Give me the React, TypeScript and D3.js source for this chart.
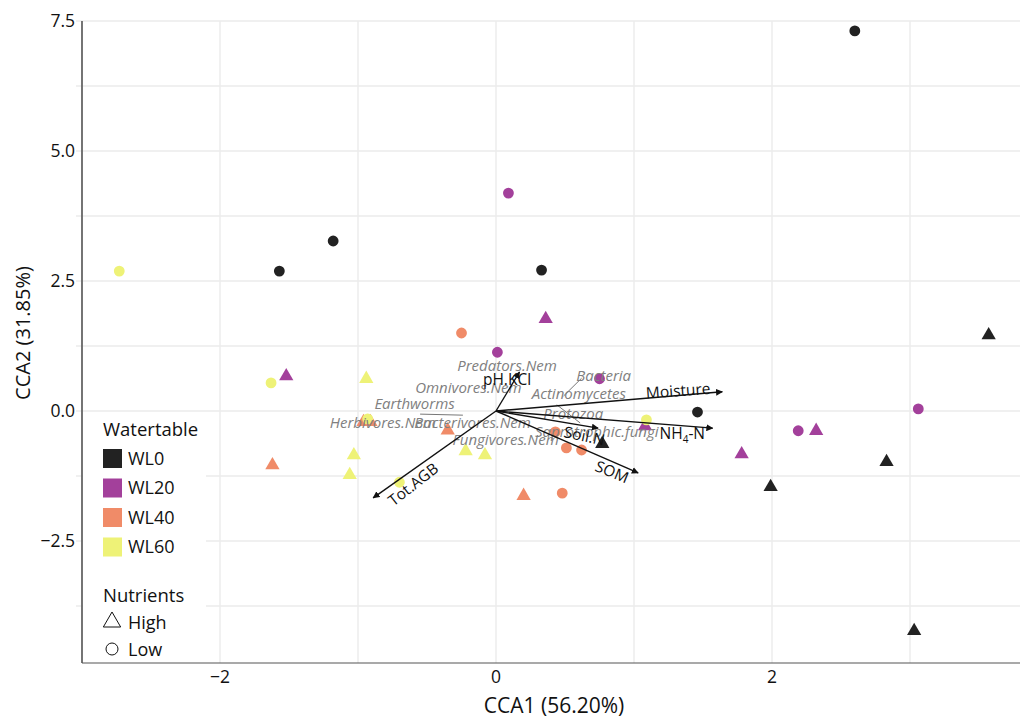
import React from "react"
import * as d3 from "d3"

// sample scores (CCA1, CCA2)
const wl0Low = [[2.60, 7.31], [-1.18, 3.27], [-1.57, 2.69], [0.33, 2.71], [1.46, -0.02]]
const wl0High = [[3.57, 1.44], [2.83, -1.0], [1.99, -1.48], [3.03, -4.25], [0.77, -0.65]]
const wl20Low = [[0.09, 4.19], [0.01, 1.13], [0.75, 0.62], [2.19, -0.38], [3.06, 0.04]]
const wl20High = [[0.36, 1.75], [-1.52, 0.65], [1.08, -0.31], [1.78, -0.85], [2.32, -0.40]]
const wl40Low = [[-0.25, 1.5], [0.43, -0.40], [0.51, -0.71], [0.62, -0.75], [0.48, -1.58]]
const wl40High = [[-1.62, -1.06], [-0.96, -0.23], [-0.91, -0.23], [-0.35, -0.39], [0.20, -1.65]]
const wl60Low = [[-2.73, 2.69], [-1.63, 0.54], [-0.70, -1.37], [1.09, -0.17], [-0.93, -0.15]]
const wl60High = [[-0.94, 0.6], [-1.03, -0.87], [-1.06, -1.25], [-0.22, -0.79], [-0.08, -0.87]]

const groups = ["WL0", "WL20", "WL40", "WL60"]
const groupColors = ["#222222", "#a3409b", "#f08b68", "#eef277"]

// environmental vectors: name, x, y
const envNames = ["pH.KCl", "Moisture", "NH4-N", "Soil.N", "SOM", "Tot.AGB"]
const envX = [0.17, 1.64, 1.57, 0.74, 1.03, -0.89]
const envY = [0.75, 0.37, -0.33, -0.33, -1.19, -1.67]

// species labels
const spNames = ["Predators.Nem", "Omnivores.Nem", "Earthworms", "Herbivores.Nem", "Bacterivores.Nem", "Fungivores.Nem", "Bacteria", "Actinomycetes", "Protozoa", "Saprotrophic.fungi"]
const spX = [0.08, -0.2, -0.59, -0.82, -0.17, 0.07, 0.78, 0.6, 0.56, 0.73]
const spY = [0.87, 0.44, 0.13, -0.22, -0.22, -0.56, 0.67, 0.34, -0.05, -0.4]
const spLines = [[0.62, 0.63, 0.49, 0.29], [0.44, 0.12, 0.61, -0.23], [-0.55, -0.06, -0.24, -0.08]]

const xTicks = [-2, 0, 2]
const yTicks = [-2.5, 0, 2.5, 5, 7.5]

const W = 1021
const H = 720
const m = { left: 82, right: 1020, top: 21, bottom: 663 }
const x = d3.scaleLinear().domain([-3, 3.797]).range([m.left, m.right])
const y = d3.scaleLinear().domain([-4.846, 7.5]).range([m.bottom, m.top])
const font = "'Open Sans', 'Noto Sans', sans-serif"

const tri = d3.symbol().type(d3.symbolTriangle).size(88)
const circ = d3.symbol().type(d3.symbolCircle).size(92)

export default function App() {
  const series = [
    [wl0Low, wl0High], [wl20Low, wl20High], [wl40Low, wl40High], [wl60Low, wl60High],
  ]
  const xGrid = d3.range(-3, 4, 1)
  const yGrid = d3.range(-3.75, 7.6, 1.25)
  const ox = x(0)
  const oy = y(0)
  return (
    <svg width={W} height={H} style={{ position: "absolute", left: 0, top: 0, fontFamily: font }}>
      <defs>
        <marker id="ah" viewBox="0 0 10 10" refX="9" refY="5" markerWidth="5" markerHeight="5" orient="auto">
          <path d="M0,0 L10,5 L0,10 z" fill="#111" />
        </marker>
      </defs>
      <rect width={W} height={H} fill="white" />
      {xGrid.map((v) => (
        <line key={"gx" + v} x1={x(v)} x2={x(v)} y1={m.top} y2={m.bottom} stroke="#ebebeb" strokeWidth={1.4} />
      ))}
      {yGrid.map((v) => (
        <line key={"gy" + v} x1={m.left - 6} x2={m.right} y1={y(v)} y2={y(v)} stroke="#ebebeb" strokeWidth={1.4} />
      ))}
      {/* legend box */}
      <rect x={m.left + 1} y={414} width={123} height={248} fill="white" />
      <line x1={m.left} x2={m.left} y1={m.top} y2={m.bottom} stroke="#222" strokeWidth={1.2} />
      <line x1={m.left} x2={m.right} y1={m.bottom} y2={m.bottom} stroke="#555" strokeWidth={1.2} />
      {yTicks.map((v) => (
        <text key={"yt" + v} x={m.left - 7} y={y(v)} dy="0.35em" textAnchor="end" fontSize={17.5} fill="#111">
          {d3.format(".1f")(v).replace("-", "\u2212")}
        </text>
      ))}
      {xTicks.map((v) => (
        <text key={"xt" + v} x={x(v)} y={m.bottom + 20} textAnchor="middle" fontSize={17.5} fill="#111">
          {String(v).replace("-", "\u2212")}
        </text>
      ))}
      <text x={554} y={713} textAnchor="middle" fontSize={21} fill="#111">CCA1 (56.20%)</text>
      <text transform={`translate(30,333) rotate(-90)`} textAnchor="middle" fontSize={20} fill="#111">CCA2 (31.85%)</text>

      {/* points */}
      {series.map((s, gi) => (
        <g key={"s" + gi} fill={groupColors[gi]}>
          {s[0].map((p, i) => (
            <path key={"c" + i} d={circ() as string} transform={`translate(${x(p[0])},${y(p[1])})`} />
          ))}
          {s[1].map((p, i) => (
            <path key={"t" + i} d={tri() as string} transform={`translate(${x(p[0])},${y(p[1]) - 1})`} />
          ))}
        </g>
      ))}

      {/* species labels */}
      {spLines.map((l, i) => (
        <line key={"sl" + i} x1={x(l[0])} y1={y(l[1])} x2={x(l[2])} y2={y(l[3])} stroke="#777" strokeWidth={1} />
      ))}
      {spNames.map((n, i) => (
        <text key={n} x={x(spX[i])} y={y(spY[i])} dy="0.35em" textAnchor="middle" fontSize={15} fontStyle="italic" fill="#808080">
          {n}
        </text>
      ))}

      {/* env arrows */}
      {envNames.map((n, i) => (
        <line key={"a" + n} x1={ox} y1={oy} x2={x(envX[i])} y2={y(envY[i])} stroke="#111" strokeWidth={1.4} markerEnd="url(#ah)" />
      ))}
      <text x={x(0.08)} y={y(0.6)} dy="0.35em" textAnchor="middle" fontSize={15.5} fill="#111">pH.KCl</text>
      <text transform={`translate(${x(1.32)},${y(0.39)}) rotate(-4)`} dy="0.35em" textAnchor="middle" fontSize={15.5} fill="#111">Moisture</text>
      <text x={x(1.35)} y={y(-0.43)} dy="0.35em" textAnchor="middle" fontSize={15.5} fill="#111">
        NH<tspan fontSize={10} dy="4">4</tspan><tspan dy="-4">-N</tspan>
      </text>
      <text transform={`translate(${x(0.64)},${y(-0.48)}) rotate(12)`} dy="0.35em" textAnchor="middle" fontSize={15.5} fill="#111">Soil.N</text>
      <text transform={`translate(${x(0.84)},${y(-1.17)}) rotate(22)`} dy="0.35em" textAnchor="middle" fontSize={15.5} fill="#111">SOM</text>
      <text transform={`translate(${x(-0.6)},${y(-1.41)}) rotate(-38)`} dy="0.35em" textAnchor="middle" fontSize={15.5} fill="#111">Tot.AGB</text>

      {/* legend */}
      <text x={103} y={430} dy="0.35em" fontSize={18.5} fill="#111">Watertable</text>
      {groups.map((g, i) => (
        <g key={g}>
          <rect x={103} y={449 + i * 29.5} width={19} height={19} fill={groupColors[i]} />
          <text x={128} y={458.5 + i * 29.5} dy="0.35em" fontSize={18} fill="#111">{g}</text>
        </g>
      ))}
      <text x={103} y={596} dy="0.35em" fontSize={18.5} fill="#111">Nutrients</text>
      <path d={d3.symbol().type(d3.symbolTriangle).size(130)() as string} transform="translate(112,622)" fill="none" stroke="#111" strokeWidth={1} />
      <text x={128} y={623} dy="0.35em" fontSize={18} fill="#111">High</text>
      <circle cx={112} cy={649} r={6} fill="none" stroke="#111" strokeWidth={1} />
      <text x={128} y={650} dy="0.35em" fontSize={18} fill="#111">Low</text>
    </svg>
  )
}
